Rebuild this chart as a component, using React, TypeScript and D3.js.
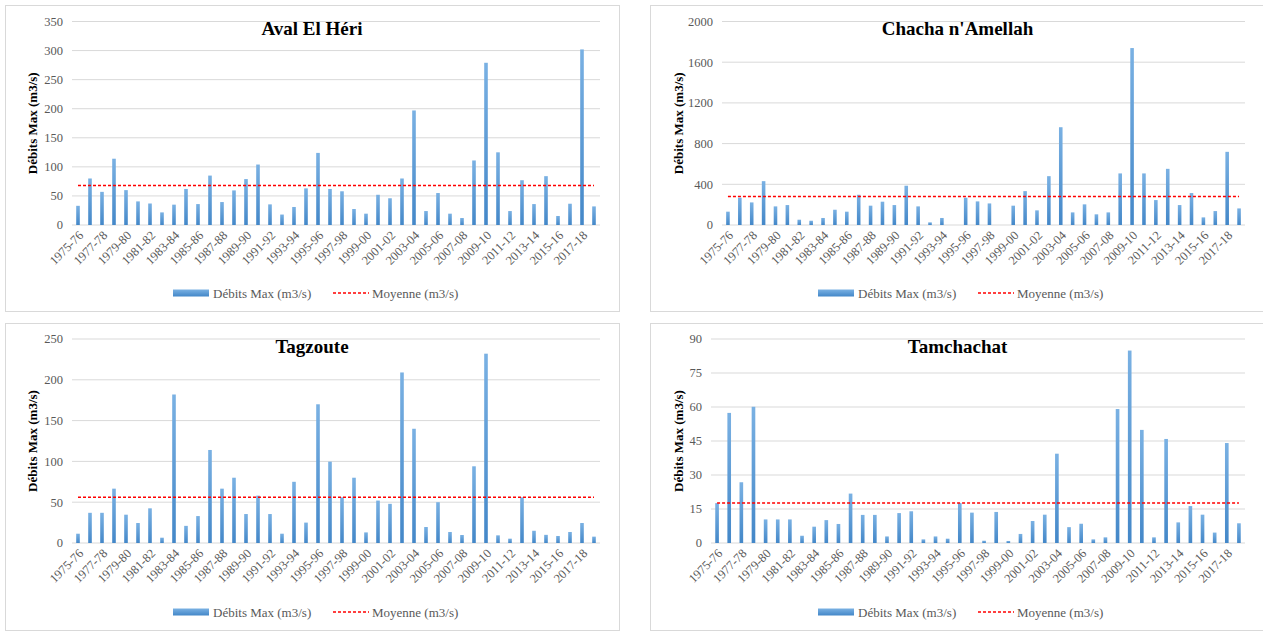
import React from "react";
import * as d3 from "d3";

const years: string[] = Array.from({ length: 44 }, (_, i) => {
  const a = 1975 + i;
  const b = (a + 1) % 100;
  return `${a}-${b.toString().padStart(2, "0")}`;
});

const avalValues = [33, 80, 57, 114, 60, 40.6, 37, 21.7, 35, 62, 36, 85, 39.5, 59.5, 79, 104, 35.5, 18, 31, 63, 124, 62, 58, 27.5, 19.5, 52, 46, 80, 197, 24, 55, 19.5, 12, 111, 279, 125, 24, 77, 36, 84, 15.5, 36.6, 302, 32];
const chachaValues = [131, 268, 222, 431, 183, 196, 52, 42, 69, 150, 131, 297, 190, 229, 196, 386, 183, 26, 69, 0, 268, 232, 212, 0, 190, 333, 144, 480, 961, 124, 203, 105, 124, 507, 1739, 507, 245, 552, 196, 314, 75, 137, 719, 163];
const tagzouteValues = [11.4, 37, 37, 66.6, 34.7, 24.5, 42.5, 6.5, 182, 21, 33, 114, 66.6, 80, 35.5, 58, 35.5, 11.4, 75, 25, 170, 99.7, 56, 80, 13, 52, 48, 209, 140, 19.6, 50, 13.5, 9.8, 94, 232, 9.4, 5.3, 56, 15, 10, 8.6, 13.5, 24.5, 7.8];
const tamchachatValues = [17.6, 57.4, 26.8, 60.1, 10.4, 10.4, 10.4, 3.2, 7.2, 10.1, 8.4, 21.8, 12.4, 12.4, 2.9, 13.2, 14, 1.6, 2.9, 1.9, 17.6, 13.4, 1.0, 13.7, 0.9, 4, 9.7, 12.5, 39.4, 7, 8.5, 1.6, 2.5, 59.1, 84.9, 49.9, 2.5, 45.9, 9.1, 16.3, 12.5, 4.6, 44.1, 8.7];

const means = [68, 280, 56, 17.6];
const titles = ["Aval El Héri", "Chacha n'Amellah", "Tagzoute", "Tamchachat"];
const avalTicks = [0, 50, 100, 150, 200, 250, 300, 350];
const chachaTicks = [0, 400, 800, 1200, 1600, 2000];
const tagzouteTicks = [0, 50, 100, 150, 200, 250];
const tamchachatTicks = [0, 15, 30, 45, 60, 75, 90];

const seriesLabel = "Débits Max (m3/s)";
const meanLabel = "Moyenne (m3/s)";
const yLabel = "Débits Max (m3/s)";

const FONT = "Liberation Serif, Times New Roman, serif";
const GRAY = "#595959";

type Box = { x: number; y: number; w: number; h: number };
type Plot = { l: number; r: number; t: number; b: number };

function Panel(props: {
  id: string;
  title: string;
  values: number[];
  mean: number;
  ticks: number[];
  box: Box;
  plot: Plot;
  yLabelX: number;
  legendSwatchX: number;
  legendMeanX: number;
}) {
  const { id, title, values, mean, ticks, box, plot, yLabelX, legendSwatchX, legendMeanX } = props;
  const x = d3.scaleBand<string>().domain(years).range([plot.l, plot.r]).paddingInner(0.7).paddingOuter(0.35);
  const y = d3.scaleLinear().domain([0, ticks[ticks.length - 1]]).range([plot.b, plot.t]);
  const cx = (yr: string) => (x(yr) as number) + x.bandwidth() / 2;
  const legendY = box.y + box.h - 18;
  const line = d3
    .line<number>()
    .x((_, i) => cx(years[i]))
    .y(() => y(mean));
  const titleX = box.x + box.w / 2;
  return (
    <g>
      <defs>
        <linearGradient id={`grad-${id}`} x1="0" y1="0" x2="0" y2="1">
          <stop offset="0%" stopColor="#7ab1e3" />
          <stop offset="100%" stopColor="#4387c8" />
        </linearGradient>
      </defs>
      <rect x={box.x + 0.5} y={box.y + 0.5} width={box.w} height={box.h} fill="#fff" stroke="#d9d9d9" strokeWidth={1} />
      {ticks.map((t) => (
        <g key={t}>
          <line x1={plot.l} x2={plot.r} y1={y(t)} y2={y(t)} stroke="#d9d9d9" strokeWidth={1} />
          <text x={plot.l - 9} y={y(t)} dy="0.35em" textAnchor="end" fontFamily={FONT} fontSize={12.5} fill={GRAY}>
            {t}
          </text>
        </g>
      ))}
      {values.map((v, i) => (
        <rect
          key={i}
          x={x(years[i]) as number}
          y={y(v)}
          width={x.bandwidth()}
          height={plot.b - y(v)}
          fill={`url(#grad-${id})`}
        />
      ))}
      <path d={line(values) as string} fill="none" stroke="#ff0000" strokeWidth={1.5} strokeDasharray="3,2" />
      {years.map((yr, i) =>
        i % 2 === 0 ? (
          <text
            key={yr}
            transform={`translate(${cx(yr) + 3},${plot.b + 8}) rotate(-45)`}
            textAnchor="end"
            dy="0.35em"
            fontFamily={FONT}
            fontSize={12.5}
            fill={GRAY}
          >
            {yr}
          </text>
        ) : null
      )}
      <text
        transform={`translate(${yLabelX},${(plot.t + plot.b) / 2}) rotate(-90)`}
        textAnchor="middle"
        fontFamily={FONT}
        fontSize={13}
        fontWeight="bold"
        fill="#000"
        dy="0.35em"
      >
        {yLabel}
      </text>
      <text x={titleX} y={box.y + 30} textAnchor="middle" fontFamily={FONT} fontSize={19} fontWeight="bold" fill="#000">
        {title}
      </text>
      <rect x={legendSwatchX} y={legendY - 3.5} width={36} height={7} fill={`url(#grad-${id})`} />
      <text x={legendSwatchX + 40} y={legendY} dy="0.35em" fontFamily={FONT} fontSize={13} fill={GRAY}>
        {seriesLabel}
      </text>
      <line x1={legendMeanX} x2={legendMeanX + 36} y1={legendY} y2={legendY} stroke="#ff0000" strokeWidth={1.5} strokeDasharray="3,2" />
      <text x={legendMeanX + 39} y={legendY} dy="0.35em" fontFamily={FONT} fontSize={13} fill={GRAY}>
        {meanLabel}
      </text>
    </g>
  );
}

export default function App() {
  return (
    <svg width={1263} height={632} style={{ position: "absolute", left: 0, top: 0, background: "#fff" }}>
      <Panel
        id="a"
        title={titles[0]}
        values={avalValues}
        mean={means[0]}
        ticks={avalTicks}
        box={{ x: 5, y: 5, w: 614, h: 306 }}
        plot={{ l: 72, r: 600, t: 21.5, b: 225 }}
        yLabelX={32}
        legendSwatchX={173}
        legendMeanX={333}
      />
      <Panel
        id="b"
        title={titles[1]}
        values={chachaValues}
        mean={means[1]}
        ticks={chachaTicks}
        box={{ x: 650, y: 5, w: 615, h: 306 }}
        plot={{ l: 722, r: 1245, t: 21.5, b: 225 }}
        yLabelX={678}
        legendSwatchX={818}
        legendMeanX={978}
      />
      <Panel
        id="c"
        title={titles[2]}
        values={tagzouteValues}
        mean={means[2]}
        ticks={tagzouteTicks}
        box={{ x: 5, y: 323, w: 614, h: 307 }}
        plot={{ l: 72, r: 600, t: 339, b: 543 }}
        yLabelX={32}
        legendSwatchX={173}
        legendMeanX={333}
      />
      <Panel
        id="d"
        title={titles[3]}
        values={tamchachatValues}
        mean={means[3]}
        ticks={tamchachatTicks}
        box={{ x: 650, y: 323, w: 615, h: 307 }}
        plot={{ l: 711, r: 1245, t: 339, b: 543 }}
        yLabelX={678}
        legendSwatchX={818}
        legendMeanX={978}
      />
    </svg>
  );
}
